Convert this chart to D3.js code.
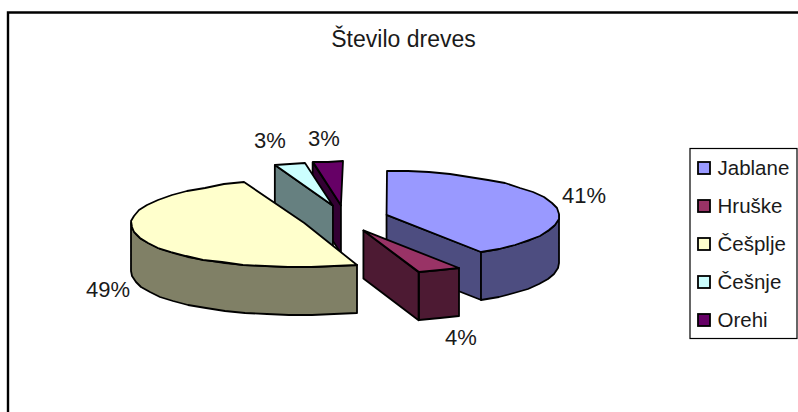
<!DOCTYPE html>
<html>
<head>
<meta charset="utf-8">
<script src="https://cdn.jsdelivr.net/npm/d3@7/dist/d3.min.js"></script>
<style>
html, body { margin: 0; padding: 0; background: #fff; }
svg { display: block; }
text { font-family: "Liberation Sans", Arial, sans-serif; fill: #1a1a1a; }
</style>
</head>
<body>
<svg id="chart" width="798" height="412"></svg>
<script>
// Tree counts by species, as percentage shares of the pie
const categories = ["Jablane", "Hruške", "Češplje", "Češnje", "Orehi"];
const shares = [41, 4, 49, 3, 3];
const topColors = ["#9999FF", "#993366", "#FFFFCC", "#CCFFFF", "#660066"];
const chartTitle = "Število dreves";

// Projection of the tilted pie
const center = { x: 345, y: 218.5 };
const rx = 173, ry = 44, depth = 48, explodeX = 0.25, explodeY = 0.3;
const arcStep = Math.PI / 24;
// Perspective: the far edge narrows and the near edge widens around this vertical
const perspectivePivot = 387;
const farTaper = 0.05, farSpan = 55, nearFlare = 0.045, nearSpan = 48;

const svg = d3.select("#chart");

// Chart frame
svg.append("path")
  .attr("d", "M8,412V12.5H798")
  .attr("fill", "none").attr("stroke", "#000").attr("stroke-width", 2.4);

svg.append("text").attr("x", 403.5).attr("y", 47)
  .attr("text-anchor", "middle").attr("font-size", 23).text(chartTitle);

const pie = d3.pie().sort(null)(shares);

const slices = pie.map((p, i) => {
  const mid = (p.startAngle + p.endAngle) / 2;
  return {
    i,
    a0: p.startAngle,
    a1: p.endAngle,
    cx: center.x + explodeX * rx * Math.sin(mid),
    cy: center.y - explodeY * ry * Math.cos(mid)
  };
});

const py = (s, a) => s.cy - ry * Math.cos(a);
const px = (s, a) => {
  const x = s.cx + rx * Math.sin(a);
  const dy = py(s, a) - center.y;
  const f = dy < 0
    ? 1 - farTaper * (dy / farSpan) ** 2
    : 1 + nearFlare * (dy / nearSpan) ** 2;
  return perspectivePivot + (x - perspectivePivot) * f;
};

// Rim points of the arc, sampled coarsely so the edge stays faceted
function rim(s, a0, a1) {
  const n = Math.max(1, Math.ceil((a1 - a0) / arcStep));
  return d3.range(n + 1).map(k => {
    const a = a0 + (a1 - a0) * k / n;
    return [Math.round(px(s, a)), Math.round(py(s, a))];
  });
}

const line = d3.line();
const darker = c => {
  const r = d3.rgb(c);
  return d3.rgb(r.r / 2, r.g / 2, r.b / 2).formatHex();
};

function draw(sel, pts, fill) {
  sel.append("path")
    .attr("d", line(pts) + "Z")
    .attr("fill", fill)
    .attr("stroke", "#000")
    .attr("stroke-width", 1.8)
    .attr("stroke-linejoin", "round");
}

// Slices are painted from the back of the scene to the front
const order = slices.slice().sort((a, b) => d3.ascending(a.cy, b.cy));

order.forEach(s => {
  const g = svg.append("g");
  const top = topColors[s.i];
  const side = darker(top);
  const c = [s.cx, s.cy];

  // Radial cut faces turned toward the viewer
  const cutFace = a => {
    const e = [px(s, a), py(s, a)];
    draw(g, [c, e, [e[0], e[1] + depth], [c[0], c[1] + depth]], side);
  };
  if (Math.sin(s.a0) < -1e-6) cutFace(s.a0);
  if (Math.sin(s.a1) > 1e-6) cutFace(s.a1);

  // Outer wall, only the part on the front half of the ellipse
  const w0 = Math.max(s.a0, Math.PI / 2);
  const w1 = Math.min(s.a1, Math.PI * 1.5);
  if (w1 > w0) {
    const r = rim(s, w0, w1);
    const lower = r.map(([x, y]) => [x, y + depth]).reverse();
    draw(g, r.concat(lower), side);
  }

  // Top surface
  draw(g, [c].concat(rim(s, s.a0, s.a1)), top);
});

// Percentage labels
const labelX = [584, 461, 108, 270, 324];
const labelY = [203, 345, 297, 148, 146];
svg.selectAll("text.pct").data(shares).join("text")
  .attr("class", "pct")
  .attr("x", (d, i) => labelX[i])
  .attr("y", (d, i) => labelY[i])
  .attr("text-anchor", "middle")
  .attr("font-size", 22)
  .text(d => d + "%");

// Legend
const legend = svg.append("g");
legend.append("rect")
  .attr("x", 690).attr("y", 148.5).attr("width", 107).attr("height", 190)
  .attr("fill", "#fff").attr("stroke", "#000").attr("stroke-width", 1.2);

const legendY = d3.scalePoint().domain(categories).range([168, 320]);

categories.forEach((name, i) => {
  legend.append("rect")
    .attr("x", 698).attr("y", legendY(name) - 6)
    .attr("width", 12).attr("height", 12)
    .attr("fill", topColors[i])
    .attr("stroke", "#000").attr("stroke-width", 1.8);
  legend.append("text")
    .attr("x", 717.5).attr("y", legendY(name) + 7)
    .attr("font-size", 20.5).text(name);
});
</script>
</body>
</html>
